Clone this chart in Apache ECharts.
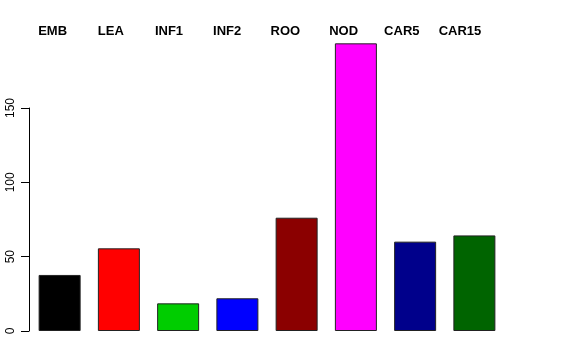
<!DOCTYPE html>
<html>
<head>
<meta charset="utf-8">
<script src="https://cdn.jsdelivr.net/npm/echarts@6/dist/echarts.min.js"></script>
<style>html,body{margin:0;padding:0;background:#fff}#c{width:576px;height:360px}</style>
</head>
<body>
<div id="c"></div>
<script>
var categories = ["EMB", "LEA", "INF1", "INF2", "ROO", "NOD", "CAR5", "CAR15"];
var values = [37.7, 55.6, 18.6, 22.0, 76.2, 193.5, 60.1, 64.3];
var barColors = ["#000000", "#FF0000", "#00CD00", "#0000FF", "#8B0000", "#FF00FF", "#00008B", "#006400"];
var yTicks = [0, 50, 100, 150];

var chart = echarts.init(document.getElementById('c'), null, {renderer: 'canvas'});
chart.setOption({
  animation: false,
  backgroundColor: '#ffffff',
  grid: [
    {left: 30, right: 72, top: 108, bottom: 29},
    {left: 23.5, width: 465.6, top: 40, height: 10}
  ],
  xAxis: [
    {type: 'category', gridIndex: 0, data: categories,
     axisLine: {show: false}, axisTick: {show: false}, axisLabel: {show: false}},
    {type: 'category', gridIndex: 1, data: categories, position: 'top',
     axisLine: {show: false}, axisTick: {show: false},
     axisLabel: {show: true, color: '#000', fontFamily: 'Liberation Sans, Arial, sans-serif',
                 fontWeight: 'bold', fontSize: 13, margin: 2, interval: 0}}
  ],
  yAxis: [
    {type: 'value', gridIndex: 0, min: yTicks[0], max: yTicks[yTicks.length - 1], interval: 50, offset: 1,
     axisLine: {show: true, lineStyle: {color: '#000', width: 1}},
     axisTick: {show: true, length: 8, lineStyle: {color: '#000'}},
     axisLabel: {rotate: 90, color: '#000', fontFamily: 'Liberation Sans, Arial, sans-serif', fontSize: 12, margin: 12},
     splitLine: {show: false}},
    {type: 'value', gridIndex: 1, show: false}
  ],
  series: [{
    type: 'bar',
    xAxisIndex: 0, yAxisIndex: 0,
    clip: false,
    barWidth: 42,
    data: values.map(function (v, i) {
      return {value: v, itemStyle: {color: barColors[i]}};
    }),
    itemStyle: {borderColor: '#222', borderWidth: 1}
  }]
});
</script>
</body>
</html>
